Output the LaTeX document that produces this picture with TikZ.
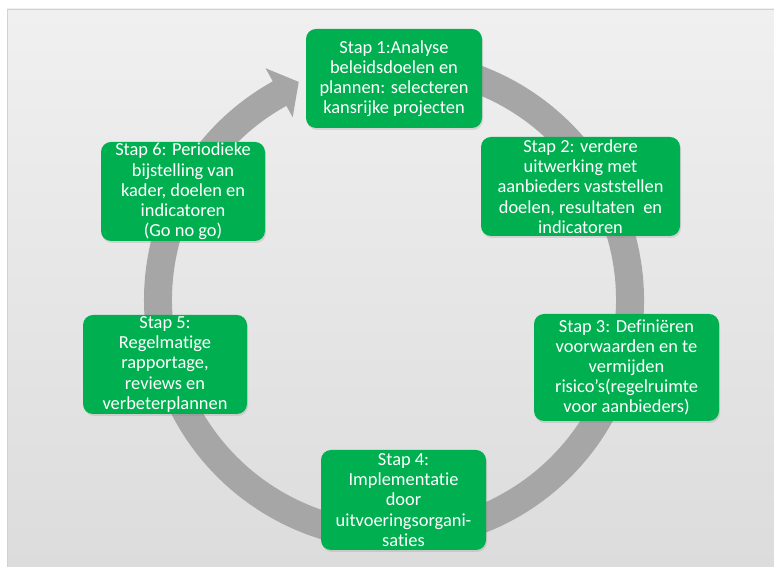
\documentclass[tikz,border=0pt]{standalone}
\usepackage{fontspec}
\setmainfont{Carlito}[Ligatures={NoCommon}]
\usetikzlibrary{calc,shadows}
\definecolor{stepgreen}{HTML}{00B050}
\definecolor{ringgray}{HTML}{A6A6A6}
\definecolor{paneltop}{HTML}{F0F0F0}
\definecolor{panelbot}{HTML}{DCDCDC}
\definecolor{paneledge}{HTML}{D2D2D2}
\tikzset{
  stepbox/.style={rectangle, rounded corners=10pt, fill=stepgreen, text=white,
    align=center, inner sep=0pt, font=\fontsize{18.4}{20.2}\selectfont,
    drop shadow={opacity=0.22, shadow xshift=1pt, shadow yshift=-2pt}},
}
\begin{document}
\begin{tikzpicture}[x=1pt,y=1pt]
  \useasboundingbox (0,0) rectangle (774,567);
  % background panel
  \fill[white] (0,0) rectangle (774,567);
  \shade[top color=paneltop, bottom color=panelbot] (7,-2) rectangle (776,558);
  \draw[paneledge, line width=0.8pt] (7,-2) -- (7,558) -- (776,558);

  % cycle ring with arrow head
  \coordinate (c) at (394,267);
  \fill[ringgray] ($(c)+(100:250)$) arc[start angle=100, end angle=-241, radius=250]
    -- ($(c)+(119:265)$) -- ($(c)+(113.6:238)$) -- ($(c)+(119:209)$)
    -- ($(c)+(119:222)$) arc[start angle=-241, end angle=100, radius=222] -- cycle;

  % steps
  \node[stepbox, minimum width=176pt, minimum height=99pt] (s1) at (394,488.5)
    {Stap 1:Analyse\\beleidsdoelen en\\plannen: selecteren\\kansrijke projecten};
  \node[stepbox, minimum width=199pt, minimum height=99pt] (s2) at (580.5,380.5)
    {Stap 2: verdere\\uitwerking met\\aanbieders vaststellen\\doelen, resultaten\ \ en\\indicatoren};
  \node[stepbox, minimum width=185pt, minimum height=107pt] (s3) at (626.5,199.5)
    {Stap 3: Definiëren\\voorwaarden en te\\vermijden\\risico’s(regelruimte\\voor aanbieders)};
  \node[stepbox, minimum width=165pt, minimum height=100pt] (s4) at (403.5,67)
    {Stap 4:\\Implementatie\\door\\uitvoeringsorgani-\\saties};
  \node[stepbox, minimum width=164pt, minimum height=99pt] (s5) at (165,202.5)
    {Stap 5:\\Regelmatige\\rapportage,\\reviews en\\verbeterplannen};
  \node[stepbox, minimum width=164pt, minimum height=99pt] (s6) at (183,375.5)
    {Stap 6: Periodieke\\bijstelling van\\kader, doelen en\\indicatoren\\(Go no go)};
\end{tikzpicture}
\end{document}
